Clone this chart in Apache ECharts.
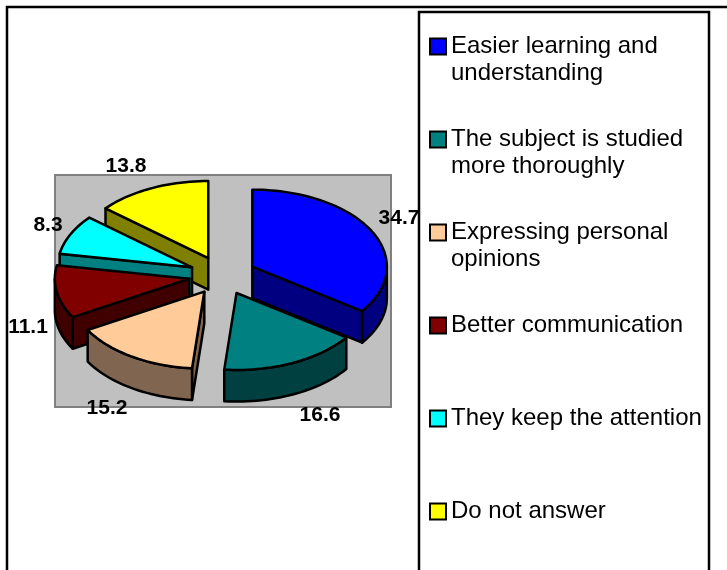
<!DOCTYPE html>
<html>
<head>
<meta charset="utf-8">
<style>html,body{margin:0;padding:0;background:#fff}#c{width:727px;height:570px}</style>
<script src="https://cdn.jsdelivr.net/npm/echarts@6/dist/echarts.min.js"></script>
</head>
<body>
<div id="c"></div>
<script>
const categories = ['Easier learning and understanding','The subject is studied more thoroughly','Expressing personal opinions','Better communication','They keep the attention','Do not answer'];
const legendLines = ['Easier learning and\nunderstanding','The subject is studied\nmore thoroughly','Expressing personal\nopinions','Better communication\n ','They keep the attention\n ','Do not answer\n '];
const values = [34.7,16.6,15.2,11.1,8.3,13.8];
const topColors = ['#0000FF','#008080','#FFCC99','#800000','#00FFFF','#FFFF00'];
const wallColors = ['#000080','#004040','#806650','#400000','#008080','#808000'];

// layout (not data)
const labelPx = [[399,218],[320,415],[107,408],[28,327],[48,225],[126,166]];
const EXPLODE = 0.25, DEPTH = 0.41;
const total = values.reduce((a,b)=>a+b,0);
const RAD = Math.PI/180;
const starts = []; let acc = 0;
values.forEach(v=>{starts.push(acc); acc += v/total*360;});
const mids = values.map((v,i)=>starts[i]+v/total*180);
const drawOrder = values.map((_,i)=>i).sort((a,b)=>Math.cos(mids[b]*RAD)-Math.cos(mids[a]*RAD));

function renderSlice(idx){
  return function(params, api){
    const v = api.value(1);
    const a0 = starts[idx], a1 = a0 + v/total*360, m = mids[idx];
    const cx = EXPLODE*Math.sin(m*RAD), cy = EXPLODE*Math.cos(m*RAD);
    const pt = (deg,dz)=>api.coord([cx+Math.sin(deg*RAD), cy+Math.cos(deg*RAD)-(dz||0)]);
    const apex = dz=>api.coord([cx, cy-(dz||0)]);
    const style = fill=>({fill, stroke:'#000', lineWidth:2.5, lineJoin:'round'});
    const kids = [];
    const wall = deg=>({type:'polygon',shape:{points:[apex(0),pt(deg,0),pt(deg,DEPTH),apex(DEPTH)]},style:style(wallColors[idx]),silent:true});
    if (Math.sin(a0*RAD) < -1e-6) kids.push(wall(a0));
    if (Math.sin(a1*RAD) > 1e-6) kids.push(wall(a1));
    const w0 = Math.max(a0,90), w1 = Math.min(a1,270);
    if (w1 > w0){
      const up=[], down=[];
      for(let d=w0; d<w1; d+=2){up.push(pt(d,0)); down.unshift(pt(d,DEPTH));}
      up.push(pt(w1,0)); down.unshift(pt(w1,DEPTH));
      kids.push({type:'polygon',shape:{points:up.concat(down)},style:style(wallColors[idx]),silent:true});
    }
    const top=[apex(0)];
    for(let d=a0; d<a1; d+=2) top.push(pt(d,0));
    top.push(pt(a1,0));
    kids.push({type:'polygon',shape:{points:top},style:style(topColors[idx]),silent:true});
    kids.push({type:'text',silent:true,style:{text:v.toFixed(1),x:labelPx[idx][0],y:labelPx[idx][1],align:'center',verticalAlign:'middle',font:'bold 21px "Liberation Sans"',fill:'#000'}});
    return {type:'group',children:kids};
  };
}

const chart = echarts.init(document.getElementById('c'),null,{renderer:'canvas'});
chart.setOption({
  animation:false,
  backgroundColor:'#fff',
  grid:{left:55,top:175,width:336,height:232,show:true,backgroundColor:'#C0C0C0',borderColor:'#808080',borderWidth:2,containLabel:false},
  xAxis:{type:'value',min:-1.245,max:1.253,show:false},
  yAxis:{type:'value',min:-1.708,max:1.305,show:false},
  legend:{
    orient:'vertical',left:429,top:6,padding:0,itemGap:12,itemWidth:16,itemHeight:16,icon:'rect',selectedMode:false,z:6,
    data:categories,
    itemStyle:{borderColor:'#000',borderWidth:2},
    formatter:name=>'\u00A0\n'+legendLines[categories.indexOf(name)],
    textStyle:{fontFamily:'"Liberation Sans"',fontSize:24,lineHeight:27,color:'#000',padding:0}
  },
  graphic:[
    {type:'rect',z:5,silent:true,shape:{x:419,y:12,width:290,height:580},style:{fill:'#fff',stroke:'#000',lineWidth:2.5}},
    {type:'rect',z:5,silent:true,shape:{x:7,y:7,width:740,height:580},style:{fill:'none',stroke:'#000',lineWidth:2.5}}
  ],
  series:drawOrder.map(i=>({
    type:'custom',name:categories[i],coordinateSystem:'cartesian2d',clip:false,
    itemStyle:{color:topColors[i]},
    data:[[i,values[i]]],
    encode:{x:0,y:1},
    renderItem:renderSlice(i)
  }))
});
</script>
</body>
</html>
